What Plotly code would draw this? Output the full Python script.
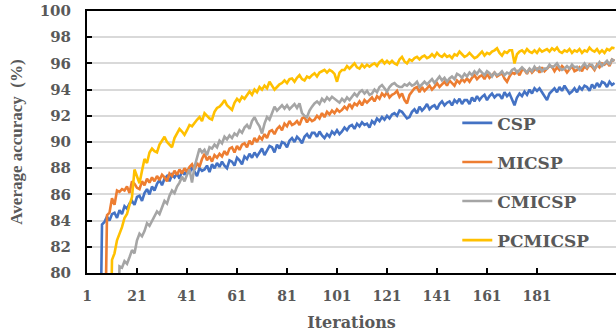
import plotly.graph_objects as go

iterations = list(range(1, 213))

csp = [
    55, 58, 61, 64, 67, 70, 83.7, 83.9, 84.3, 84.0,
    84.5, 84.6, 84.2, 84.8, 84.5, 85.1, 84.9, 85.3, 85.5, 85.2,
    85.8, 85.9, 85.5, 86.1, 86.4, 86.0, 86.6, 86.3, 86.8, 87.1,
    86.7, 87.2, 87.4, 87.0, 87.5, 87.3, 87.6, 87.2, 87.8, 87.5,
    87.9, 87.6, 88.1, 87.7, 87.4, 88.0, 87.8, 87.9, 88.2, 87.7,
    88.3, 88.0, 88.4, 88.1, 88.5, 88.2, 88.0, 88.6, 88.5, 88.2,
    88.8, 88.6, 88.3, 88.9, 88.7, 89.1, 88.8, 89.2, 88.9, 89.2,
    89.5, 89.0, 89.4, 89.7, 89.6, 89.2, 89.8, 89.5, 90.0, 89.9,
    89.6, 90.1, 90.3, 90.0, 90.4, 90.2, 89.9, 90.4, 90.6, 90.3,
    90.7, 90.7, 90.4, 90.8, 90.5, 90.3, 90.6, 90.4, 90.8, 90.6,
    90.9, 90.6, 90.8, 91.1, 90.9, 91.2, 91.3, 91.0, 91.4, 91.2,
    91.5, 91.3, 91.4, 91.1, 91.6, 91.4, 91.8, 91.6, 91.9, 91.7,
    92.0, 91.8, 92.1, 92.2, 92.0, 92.4, 92.3, 92.0, 91.8, 91.9,
    92.3, 92.5, 92.2, 92.7, 92.4, 92.6, 92.9, 92.5, 92.7, 92.8,
    92.5, 92.9, 93.1, 92.8, 93.0, 93.1, 92.8, 93.2, 93.0, 93.3,
    92.9, 93.2, 93.2, 92.9, 93.4, 93.1, 93.5, 93.2, 93.45, 93.6,
    93.2, 93.5, 93.7, 93.4, 93.6, 93.6, 93.3, 93.8, 93.5, 93.7,
    93.3, 92.8, 93.4, 93.7, 93.5, 93.85, 93.6, 94.0, 93.7, 94.1,
    93.9, 94.1, 93.8, 93.5, 93.2, 93.7, 93.9, 94.1, 93.8, 94.2,
    93.9, 94.3, 94.0, 93.7, 93.85, 94.1, 93.8, 94.2, 94.0, 94.3,
    94.2, 93.9, 94.4, 94.1, 94.5, 94.2, 94.6, 94.5, 94.2, 94.6,
    94.35, 94.5,
]

micsp = [
    55, 58, 61, 64, 67, 70, 71, 72, 84.4, 84.6,
    85.7, 85.2, 86.3, 86.2, 86.4, 86.3, 86.6, 86.1, 87.0, 86.8,
    86.5, 86.4, 87.0, 86.7, 87.2, 86.9, 87.3, 87.0, 87.4, 87.1,
    87.5, 87.3, 87.0, 87.6, 87.4, 87.8, 87.5, 87.9, 87.6, 88.0,
    87.7, 88.1, 88.3, 87.9, 88.4, 88.1, 88.7, 89.1, 88.6, 88.9,
    88.5, 89.0, 88.8, 89.1, 88.9, 89.3, 89.0, 89.5, 89.6, 89.2,
    89.7, 89.4, 89.8, 89.9, 89.6, 90.1, 89.8, 90.3, 90.0, 90.4,
    90.2, 90.6, 90.3, 90.8, 90.9, 90.6, 91.0, 91.2, 90.9, 91.4,
    91.2, 91.6, 91.3, 91.4, 91.6, 91.3, 91.8, 91.9, 91.5, 91.8,
    91.6, 91.7, 92.0, 91.8, 92.2, 91.9, 92.3, 92.1, 92.4, 92.2,
    92.5, 92.3, 92.45, 92.7, 92.5, 92.9, 92.6, 92.95, 92.8, 93.1,
    92.8, 93.2, 93.0, 93.2, 93.4, 93.1, 93.5, 93.3, 93.7, 93.5,
    93.8, 93.4, 93.6, 93.7, 93.9, 93.45, 93.7, 93.2, 92.95, 93.6,
    93.9, 94.1, 94.2, 93.8, 94.2, 93.9, 94.1, 94.3, 94.0, 94.2,
    94.5, 94.2, 94.4, 94.6, 94.3, 94.7, 94.5, 94.3, 94.7, 94.5,
    94.8, 94.6, 94.85, 94.6, 94.9, 95.1, 94.8, 95.0, 95.1, 94.8,
    95.2, 94.9, 95.1, 95.3, 95.0, 95.1, 95.25, 94.85, 94.6, 95.0,
    95.3, 95.2, 95.4, 95.1, 95.5, 95.5, 95.2, 95.6, 95.3, 95.5,
    95.6, 95.3, 95.7, 95.4, 95.6, 95.8, 95.75, 95.4, 95.7, 95.5,
    95.8, 95.6, 95.3, 95.6, 95.8, 95.4, 95.5, 95.7, 95.4, 95.8,
    95.6, 95.9, 95.75, 95.5, 95.9, 95.7, 96.0, 95.9, 96.1, 95.8,
    96.3, 96.2,
]

cmicsp = [
    55, 57, 59, 61, 63, 64, 65, 66, 67, 68,
    69, 70, 71, 80.5, 80.4, 80.9, 80.7, 81.2, 81.75, 81.5,
    82.5, 83.0, 82.8, 83.2, 83.8, 83.6, 84.0, 84.3, 84.7, 84.5,
    85.0, 85.5, 85.3, 85.9, 86.3, 86.1, 86.6, 86.9, 87.35, 87.0,
    87.5, 87.9, 86.9, 88.1, 88.8, 89.5, 89.2, 89.4, 89.0, 89.6,
    89.5, 89.8, 89.6, 90.1, 89.9, 90.4, 90.2, 90.5, 90.3, 90.65,
    90.5, 90.9, 90.7, 91.1, 91.3, 91.0, 91.6, 91.9, 91.5, 91.2,
    90.65, 91.4, 91.9, 91.7, 92.2, 92.7, 92.4, 92.6, 92.8, 92.55,
    92.8, 92.5, 92.7, 92.9, 92.6, 92.95, 92.2, 92.0, 91.9, 92.4,
    92.7, 92.95, 93.1, 92.9, 93.3, 93.1, 93.4, 93.2, 93.45, 93.3,
    93.2, 93.0, 93.3, 93.1, 93.4, 93.2, 93.45, 93.7, 93.5, 93.8,
    93.95, 93.7, 93.9, 93.6, 93.7, 94.0, 93.8, 94.2, 94.35, 94.1,
    93.85, 94.2, 94.4, 94.5, 94.3, 94.2, 94.2, 94.4, 94.3, 94.5,
    94.3, 94.4, 94.6, 94.2, 94.4, 94.6, 94.4, 94.6, 94.8, 94.5,
    94.8, 95.0, 94.7, 94.9, 94.6, 94.85, 95.0, 94.8, 95.2, 95.1,
    94.9, 95.2, 95.0, 95.3, 95.1, 95.4, 95.2, 95.5, 95.3, 95.1,
    95.4, 95.25, 95.0, 95.3, 95.1, 95.2, 95.4, 95.1, 95.3, 95.2,
    95.5, 95.6, 95.3, 95.5, 95.7, 95.5, 95.3, 95.6, 95.4, 95.75,
    95.5, 95.7, 95.4, 95.6, 95.6, 95.9, 95.7, 95.8, 96.0, 95.7,
    95.5, 95.6, 95.8, 95.6, 95.9, 95.7, 95.75, 95.5, 95.8, 96.0,
    95.7, 95.9, 95.9, 95.6, 95.8, 96.1, 95.8, 96.0, 96.2, 95.9,
    96.3, 96.2,
]

pcmicsp = [
    55, 57, 59, 61, 63, 65, 66, 67, 68, 70,
    81.0, 81.5, 82.5, 83.0, 83.5, 84.2, 84.5, 85.2, 85.8, 87.9,
    87.3, 86.85, 87.8, 88.7, 88.4, 89.2, 89.5, 89.3, 89.2, 89.8,
    90.1, 90.4, 90.0, 89.8, 89.6, 90.3, 90.7, 91.0, 90.8, 90.55,
    90.9, 91.3, 91.2, 91.5, 91.7, 91.9, 91.6, 92.2, 92.0, 91.8,
    91.7, 92.3, 92.6, 92.7, 92.9, 93.2, 92.8, 92.6, 92.45, 93.0,
    93.3, 93.1, 93.45, 93.3, 93.6, 93.85, 93.6, 94.0, 93.8, 94.2,
    94.0, 94.3, 94.1, 94.6, 94.3, 94.0, 94.2, 94.4, 94.5, 94.7,
    94.5, 94.8, 94.85, 94.6, 94.9, 95.1, 94.8, 94.7, 95.0, 94.9,
    95.1, 95.25, 95.0, 95.3, 95.4, 95.5, 95.3, 95.5, 95.4, 95.2,
    94.6, 95.3, 95.5, 95.5, 95.8, 95.6, 95.8, 96.0, 95.7, 95.6,
    95.9, 95.7, 95.9, 95.75, 95.9, 96.0, 95.8, 96.1, 96.25, 96.0,
    96.2, 96.0, 96.2, 96.0, 95.9, 96.3, 96.5, 96.15, 96.0, 96.3,
    96.2, 96.4, 96.5, 96.3, 96.5, 96.6, 96.4, 96.5, 96.7, 96.5,
    96.8, 96.6, 96.5, 96.7, 96.5, 96.6, 96.4, 96.7, 96.6, 96.9,
    96.7, 96.5, 96.6, 96.8, 96.6, 96.4, 96.5, 96.7, 96.9, 96.6,
    96.8, 96.7, 96.9, 97.0, 97.15, 96.8, 96.6, 96.9, 96.8, 97.0,
    97.0, 96.0, 96.7, 96.9, 97.0, 96.8, 97.1, 96.9, 96.8, 97.0,
    96.8, 97.1, 96.9, 97.0, 97.1, 96.9, 97.15, 97.0, 97.2, 96.9,
    96.8, 97.0, 96.9, 97.1, 96.8, 97.0, 96.9, 97.1, 96.8, 97.0,
    96.9, 97.2, 97.0, 96.9, 97.1, 96.8, 97.0, 96.8, 97.1, 97.0,
    97.2, 97.15,
]

series_names = ["CSP", "MICSP", "CMICSP", "PCMICSP"]
series_values = [csp, micsp, cmicsp, pcmicsp]
series_colors = ["#4472C4", "#ED7D31", "#A5A5A5", "#FFC000"]

x_tickvals = [1, 21, 41, 61, 81, 101, 121, 141, 161, 181]
y_tickvals = [80, 82, 84, 86, 88, 90, 92, 94, 96, 98, 100]

TXT = "#595959"
HFONT = "DejaVu Serif"

fig = go.Figure()
for name, vals, col in zip(series_names, series_values, series_colors):
    fig.add_trace(go.Scatter(
        x=iterations, y=vals, name=name, mode="lines",
        line=dict(color=col, width=2.6), legendgroup=name,
    ))

fig.update_layout(
    width=616, height=332,
    margin=dict(l=87, r=0, t=11, b=59, autoexpand=False),
    paper_bgcolor="white", plot_bgcolor="white",
    showlegend=True,
    legend=dict(
        x=0.70, y=0.64, xanchor="left", yanchor="top",
        bgcolor="rgba(0,0,0,0)", tracegroupgap=14,
        font=dict(family=HFONT, size=17, color=TXT, weight="bold"),
    ),
    xaxis=dict(
        range=[1, 212.6], tickvals=x_tickvals, ticktext=[str(v) for v in x_tickvals],
        showgrid=False, zeroline=False, showline=True, linecolor="black", linewidth=2,
        mirror=True, ticks="inside", ticklen=5, tickwidth=1.5, tickcolor="black",
        tickfont=dict(family=HFONT, size=14, color=TXT, weight="bold"),
        ticklabelstandoff=9, automargin=False,
        title=dict(text="Iterations", standoff=14,
                   font=dict(family=HFONT, size=16, color=TXT, weight="bold")),
    ),
    yaxis=dict(
        range=[80, 100], tickvals=y_tickvals,
        showgrid=True, gridcolor="#D9D9D9", gridwidth=1.5, zeroline=False,
        showline=True, linecolor="black", linewidth=2,
        ticks="inside", ticklen=5, tickwidth=1.5, tickcolor="black",
        tickfont=dict(family=HFONT, size=15, color=TXT, weight="bold"),
        ticklabelstandoff=11, automargin=False, ticklabeloverflow="allow",
        title=dict(text="Average accuracy  (%)", standoff=13,
                   font=dict(family="Liberation Serif", size=17, color=TXT, weight="bold")),
    ),
)

# Remove the browser's default 8px body margin so the figure fills the window.
fig.write_html("out.html", config={"displayModeBar": False},
               post_script="document.body.style.margin='0';")
